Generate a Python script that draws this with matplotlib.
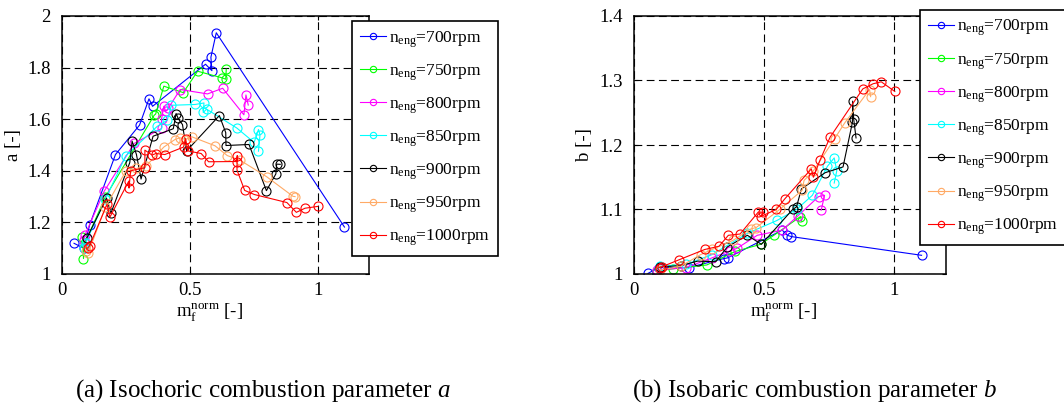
import matplotlib
matplotlib.use("Agg")
import matplotlib.pyplot as plt
from matplotlib.ticker import FormatStrFormatter

plt.rcParams['font.family'] = ['Liberation Serif', 'DejaVu Serif']
plt.rcParams['mathtext.fontset'] = 'custom'
plt.rcParams['mathtext.rm'] = 'Liberation Serif'
plt.rcParams['mathtext.it'] = 'Liberation Serif:italic'

speeds = [700, 750, 800, 850, 900, 950, 1000]
colors = ['#0000FF', '#00FF00', '#FF00FF', '#00FFFF', '#000000', '#FFAA66', '#FF0000']

# --- parameter a (isochoric) ---
a700_x = [0.047, 0.085, 0.108, 0.209, 0.303, 0.340, 0.354, 0.561, 0.586, 0.582, 0.603, 1.104]
a700_y = [1.119, 1.100, 1.190, 1.463, 1.577, 1.679, 1.650, 1.813, 1.788, 1.840, 1.935, 1.182]
a750_x = [0.080, 0.084, 0.090, 0.170, 0.360, 0.366, 0.398, 0.474, 0.530, 0.627, 0.640, 0.642]
a750_y = [1.142, 1.060, 1.120, 1.300, 1.615, 1.620, 1.728, 1.703, 1.786, 1.760, 1.755, 1.794]
a800_x = [0.085, 0.090, 0.165, 0.282, 0.389, 0.389, 0.398, 0.406, 0.415, 0.462, 0.569, 0.628, 0.711, 0.719, 0.728]
a800_y = [1.130, 1.151, 1.321, 1.506, 1.564, 1.600, 1.650, 1.631, 1.642, 1.715, 1.698, 1.720, 1.617, 1.694, 1.655]
a850_x = [0.085, 0.092, 0.170, 0.249, 0.372, 0.411, 0.428, 0.520, 0.555, 0.552, 0.565, 0.683, 0.751, 0.768, 0.774, 0.768]
a850_y = [1.100, 1.120, 1.290, 1.458, 1.572, 1.596, 1.654, 1.657, 1.663, 1.626, 1.639, 1.566, 1.510, 1.560, 1.539, 1.476]
a900_x = [0.098, 0.174, 0.191, 0.265, 0.274, 0.291, 0.309, 0.356, 0.435, 0.446, 0.454, 0.471, 0.487,
          0.615, 0.640, 0.641, 0.731, 0.799, 0.836, 0.839, 0.853]
a900_y = [1.141, 1.294, 1.235, 1.432, 1.515, 1.463, 1.368, 1.534, 1.563, 1.622, 1.603, 1.579, 1.477,
          1.614, 1.548, 1.498, 1.502, 1.323, 1.388, 1.426, 1.425]
a950_x = [0.095, 0.102, 0.170, 0.249, 0.291, 0.330, 0.398, 0.441, 0.461, 0.482, 0.507, 0.598, 0.646,
          0.696, 0.800, 0.903, 0.911]
a950_y = [1.090, 1.080, 1.260, 1.398, 1.409, 1.420, 1.492, 1.521, 1.528, 1.521, 1.532, 1.497, 1.459,
          1.441, 1.377, 1.301, 1.300]
a1000_x = [0.100, 0.108, 0.176, 0.187, 0.261, 0.262, 0.268, 0.324, 0.324, 0.352, 0.367, 0.402, 0.475,
           0.483, 0.492, 0.544, 0.573, 0.683, 0.685, 0.684, 0.714, 0.752, 0.879, 0.916, 0.950, 1.000]
a1000_y = [1.100, 1.110, 1.270, 1.220, 1.360, 1.333, 1.400, 1.412, 1.480, 1.461, 1.467, 1.463, 1.492,
           1.525, 1.477, 1.467, 1.435, 1.436, 1.459, 1.403, 1.324, 1.308, 1.277, 1.239, 1.255, 1.262]

# --- parameter b (isobaric) ---
b700_x = [0.054, 0.096, 0.210, 0.346, 0.360, 0.570, 0.590, 0.605, 1.106]
b700_y = [1.001, 1.010, 1.010, 1.024, 1.025, 1.068, 1.060, 1.058, 1.029]
b750_x = [0.090, 0.150, 0.280, 0.390, 0.487, 0.538, 0.640, 0.645]
b750_y = [1.005, 1.008, 1.014, 1.035, 1.046, 1.060, 1.089, 1.082]
b800_x = [0.090, 0.200, 0.300, 0.370, 0.397, 0.474, 0.570, 0.630, 0.710, 0.733, 0.720]
b800_y = [1.006, 1.010, 1.025, 1.036, 1.040, 1.060, 1.068, 1.090, 1.120, 1.122, 1.099]
b850_x = [0.100, 0.200, 0.300, 0.436, 0.550, 0.625, 0.686, 0.744, 0.770, 0.780, 0.770]
b850_y = [1.012, 1.015, 1.030, 1.063, 1.083, 1.100, 1.122, 1.167, 1.180, 1.160, 1.141]
b900_x = [0.100, 0.180, 0.245, 0.314, 0.359, 0.436, 0.490, 0.610, 0.625, 0.644, 0.735, 0.804, 0.840,
          0.841, 0.845, 0.854]
b900_y = [1.011, 1.013, 1.020, 1.019, 1.042, 1.060, 1.046, 1.100, 1.104, 1.132, 1.157, 1.166, 1.235,
          1.268, 1.240, 1.211]
b950_x = [0.100, 0.180, 0.256, 0.300, 0.380, 0.450, 0.470, 0.560, 0.647, 0.654, 0.690, 0.772, 0.810,
          0.906, 0.910]
b950_y = [1.006, 1.012, 1.030, 1.038, 1.052, 1.070, 1.072, 1.100, 1.130, 1.145, 1.160, 1.210, 1.234,
          1.286, 1.275]
b1000_x = [0.100, 0.106, 0.173, 0.272, 0.327, 0.363, 0.408, 0.478, 0.497, 0.487, 0.547, 0.579, 0.682,
           0.690, 0.715, 0.754, 0.880, 0.920, 0.951, 1.003]
b1000_y = [1.010, 1.011, 1.022, 1.038, 1.043, 1.060, 1.062, 1.096, 1.096, 1.089, 1.100, 1.116, 1.163,
           1.150, 1.176, 1.212, 1.287, 1.295, 1.298, 1.283]

a_series = [(a700_x, a700_y), (a750_x, a750_y), (a800_x, a800_y), (a850_x, a850_y),
            (a900_x, a900_y), (a950_x, a950_y), (a1000_x, a1000_y)]
b_series = [(b700_x, b700_y), (b750_x, b750_y), (b800_x, b800_y), (b850_x, b850_y),
            (b900_x, b900_y), (b950_x, b950_y), (b1000_x, b1000_y)]


def draw(ax, series, ylim, yticks, ylabel, leg_anchor):
    for (x, y), c, n in zip(series, colors, speeds):
        ax.plot(x, y, '-o', color=c, lw=0.8, ms=6.5, mfc='none', mew=0.8,
                label=r'n$_{\mathrm{eng}}$=%drpm' % n)
    ax.set_xlim(0, 1.2)
    ax.set_ylim(*ylim)
    ax.set_xticks([0, 0.5, 1])
    ax.set_yticks(yticks)
    ax.xaxis.set_major_formatter(FormatStrFormatter('%g'))
    ax.yaxis.set_major_formatter(FormatStrFormatter('%g'))
    ax.tick_params(direction='in', length=3, labelsize=13.5, top=True, right=True)
    ax.tick_params(axis='x', pad=6)
    ax.tick_params(axis='y', pad=8)
    ax.grid(True, color='k', lw=0.8, ls=(0, (7, 4)))
    for s in ax.spines.values():
        s.set_linewidth(1.1)
    ax.set_xlabel(r'm$_{\mathrm{f}}^{\mathrm{norm}}$ [-]', fontsize=13.5)
    ax.xaxis.set_label_coords(0.48, -0.105)
    ax.xaxis.label.set_va('top')
    ax.set_ylabel(ylabel, fontsize=13.5)
    ax.yaxis.set_label_coords(-0.13, 0.5)
    leg = ax.legend(loc='upper left', bbox_to_anchor=leg_anchor, borderaxespad=0,
                    fontsize=12.5, fancybox=False, framealpha=1, edgecolor='k',
                    handlelength=1.5, handletextpad=0.2, labelspacing=0.72,
                    borderpad=0.45, markerscale=0.7)
    leg.get_frame().set_linewidth(1.2)
    leg.set_zorder(5)


fig = plt.figure(figsize=(10.64, 4.05), dpi=100)
ax1 = fig.add_axes([62 / 1064, 1 - 274 / 405, 307 / 1064, 258 / 405])
ax2 = fig.add_axes([634 / 1064, 1 - 274 / 405, 312 / 1064, 258 / 405])

draw(ax1, a_series, (1, 2), [1, 1.2, 1.4, 1.6, 1.8, 2], 'a [-]', (0.945, 0.98))
draw(ax2, b_series, (1, 1.4), [1, 1.1, 1.2, 1.3, 1.4], 'b [-]', (0.917, 1.023))

fig.text(263 / 1064, 1 - 391 / 405, '(a) Isochoric combustion parameter $a$',
         ha='center', va='center', fontsize=18)
fig.text(815 / 1064, 1 - 391 / 405, '(b) Isobaric combustion parameter $b$',
         ha='center', va='center', fontsize=18)

fig.savefig('out.png', dpi=100)
